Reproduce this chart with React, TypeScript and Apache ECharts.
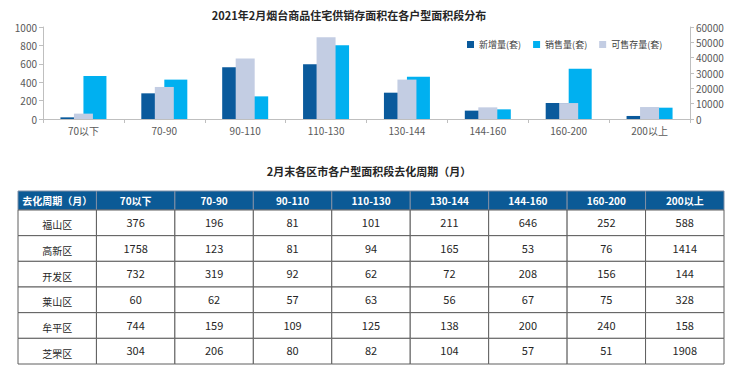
import React, { useEffect, useRef } from 'react';
import * as echarts from 'echarts';

const chartTitle = '2021年2月烟台商品住宅供销存面积在各户型面积段分布';
const tableTitle = '2月末各区市各户型面积段去化周期（月）';
const categories = ['70以下', '70-90', '90-110', '110-130', '130-144', '144-160', '160-200', '200以上'];
const seriesNames = ['新增量(套)', '销售量(套)', '可售存量(套)'];
const newSupply = [18, 279, 562, 594, 286, 91, 174, 33];
const sales = [467, 428, 246, 801, 460, 105, 547, 123];
const stock = [3500, 20900, 39400, 53300, 25700, 7600, 10400, 7800];

const tableCorner = '去化周期（月）';
const districts = ['福山区', '高新区', '开发区', '莱山区', '牟平区', '芝罘区'];
const fushan = [376, 196, 81, 101, 211, 646, 252, 588];
const gaoxin = [1758, 123, 81, 94, 165, 53, 76, 1414];
const kaifa = [732, 319, 92, 62, 72, 208, 156, 144];
const laishan = [60, 62, 57, 63, 56, 67, 75, 328];
const muping = [744, 159, 109, 125, 138, 200, 240, 158];
const zhifu = [304, 206, 80, 82, 104, 57, 51, 1908];
const cycleRows = [fushan, gaoxin, kaifa, laishan, muping, zhifu];

const FONT = '"Noto Sans CJK SC", "Noto Sans", sans-serif';
const C_NEW = '#0A5A9C';
const C_SALES = '#00B0F0';
const C_STOCK = '#C3CDE3';
const C_HEAD = '#0B5A96';
const AXIS = '#BFBFBF';

export default function App() {
  const ref = useRef<HTMLDivElement>(null);
  useEffect(() => {
    if (!ref.current) return;
    const chart = echarts.init(ref.current, null, { renderer: 'svg' });
    const headerTexts = [tableCorner, ...categories];
    const headerData = headerTexts.map((_, i) => [i, 0]);
    const bodyData: number[][] = [];
    districts.forEach((_, r) => {
      for (let c = 0; c < 9; c++) bodyData.push([c, r]);
    });

    const axisLabel = { fontSize: 10, color: '#595959', fontFamily: FONT };
    const plain = (v: number) => String(v);
    const option: any = {
      animation: false,
      backgroundColor: '#fff',
      textStyle: { fontFamily: FONT },
      graphic: [
        {
          type: 'text', x: 349, y: 15, z: 10,
          style: { text: chartTitle, textAlign: 'center', textVerticalAlign: 'middle', font: `bold 11px ${FONT}`, fill: '#262626' },
        },
        {
          type: 'text', x: 369, y: 171, z: 10,
          style: { text: tableTitle, textAlign: 'center', textVerticalAlign: 'middle', font: `bold 11px ${FONT}`, fill: '#262626' },
        },
      ],
      legend: {
        left: 462, top: 35, itemWidth: 7, itemHeight: 7, itemGap: 12, icon: 'rect',
        textStyle: { fontSize: 9, color: '#404040', fontFamily: FONT },
        data: seriesNames,
      },
      grid: [
        { left: 43, top: 27, width: 647, height: 92 },
        { left: 18, top: 191, width: 706, height: 19 },
        { left: 18, top: 210, width: 706, height: 154 },
      ],
      xAxis: [
        {
          gridIndex: 0, type: 'category', data: categories,
          axisLine: { lineStyle: { color: AXIS } },
          axisTick: { show: true, length: 4, lineStyle: { color: AXIS } },
          axisLabel: { ...axisLabel, margin: 6 },
        },
        { gridIndex: 0, type: 'category', data: categories, show: false },
        { gridIndex: 1, type: 'category', data: headerTexts, show: false },
        { gridIndex: 2, type: 'category', data: headerTexts, show: false },
      ],
      yAxis: [
        {
          gridIndex: 0, type: 'value', min: 0, max: 1000, interval: 200,
          axisLine: { show: true, lineStyle: { color: AXIS } },
          axisTick: { show: true, length: 4, lineStyle: { color: AXIS } },
          splitLine: { show: false },
          axisLabel: { ...axisLabel, margin: 6, formatter: plain },
        },
        {
          gridIndex: 0, type: 'value', position: 'right', min: 0, max: 60000, interval: 10000,
          axisLine: { show: true, lineStyle: { color: AXIS } },
          axisTick: { show: true, length: 4, lineStyle: { color: AXIS } },
          splitLine: { show: false },
          axisLabel: { ...axisLabel, margin: 6, formatter: plain },
        },
        { gridIndex: 1, type: 'category', data: ['h'], show: false },
        { gridIndex: 2, type: 'category', data: districts, inverse: true, show: false },
      ],
      series: [
        {
          name: seriesNames[0], type: 'bar', xAxisIndex: 0, yAxisIndex: 0,
          data: newSupply, barWidth: 23, barGap: '0%', itemStyle: { color: C_NEW }, z: 2,
        },
        {
          name: seriesNames[1], type: 'bar', xAxisIndex: 0, yAxisIndex: 0,
          data: sales, barWidth: 23, barGap: '0%', itemStyle: { color: C_SALES }, z: 2,
        },
        {
          name: seriesNames[2], type: 'bar', xAxisIndex: 1, yAxisIndex: 1,
          data: stock, barWidth: 19, itemStyle: { color: C_STOCK }, z: 3,
        },
        {
          type: 'custom', xAxisIndex: 2, yAxisIndex: 2, data: headerData,
          encode: { x: 0, y: 1 }, silent: true,
          renderItem: (params: any, api: any) => {
            const c = api.value(0);
            const p = api.coord([c, 0]);
            const s = api.size([1, 1]);
            return {
              type: 'group',
              children: [
                {
                  type: 'rect',
                  shape: { x: p[0] - s[0] / 2, y: p[1] - s[1] / 2, width: s[0], height: s[1] },
                  style: { fill: C_HEAD, stroke: '#7f8fa6', lineWidth: 1 },
                },
                {
                  type: 'text', x: p[0], y: p[1],
                  style: { text: headerTexts[c], fill: '#fff', font: `bold 10px ${FONT}`, textAlign: 'center', textVerticalAlign: 'middle' },
                },
              ],
            };
          },
        },
        {
          type: 'custom', xAxisIndex: 3, yAxisIndex: 3, data: bodyData,
          encode: { x: 0, y: 1 }, silent: true,
          renderItem: (params: any, api: any) => {
            const c = api.value(0);
            const r = api.value(1);
            const p = api.coord([c, r]);
            const s = api.size([1, 1]);
            const text = c === 0 ? districts[r] : String(cycleRows[r][c - 1]);
            return {
              type: 'group',
              children: [
                {
                  type: 'rect',
                  shape: { x: p[0] - s[0] / 2, y: p[1] - s[1] / 2, width: s[0], height: s[1] },
                  style: { fill: '#fff', stroke: '#5f5f5f', lineWidth: 1 },
                },
                {
                  type: 'text', x: p[0], y: c === 0 ? p[1] + 2 : p[1] - 1,
                  style: { text, fill: '#262626', font: c === 0 ? `10px ${FONT}` : `11px ${FONT}`, textAlign: 'center', textVerticalAlign: 'middle' },
                },
              ],
            };
          },
        },
      ],
    };
    chart.setOption(option);
    return () => chart.dispose();
  }, []);
  return (
    <div
      ref={ref}
      style={{ position: 'fixed', left: 0, top: 0, width: 740, height: 382, background: '#fff' }}
    />
  );
}
